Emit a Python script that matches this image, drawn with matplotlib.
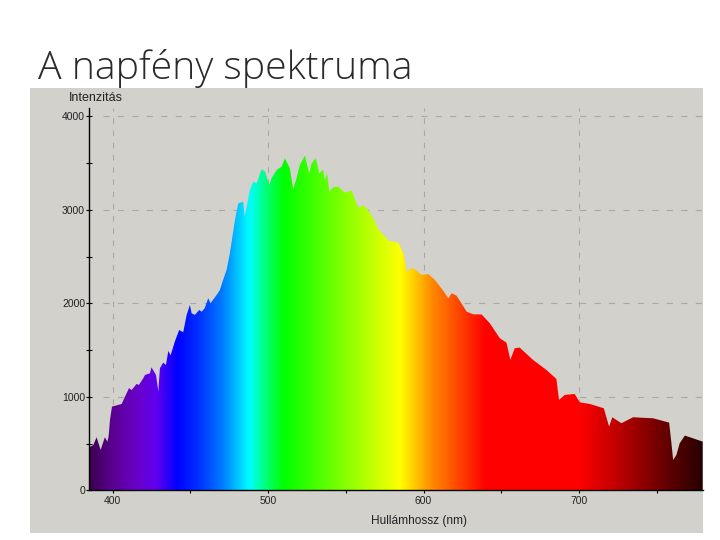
import matplotlib
matplotlib.use('Agg')
import matplotlib.pyplot as plt
from matplotlib.colors import LinearSegmentedColormap
from matplotlib.patches import Polygon, Rectangle
import numpy as np

wavelength = [385, 387.6, 389.7, 392.3, 395, 396.6, 397.4, 398.3, 399.6, 405.8, 410.5, 412.3,
              415.4, 416.9, 419.7, 420.8, 424, 425, 427.9, 429.4, 430.4, 432.5, 434.3, 435.8,
              437.3, 440, 442.8, 445.4, 447.6, 449.7, 450.8, 452.9, 455.7, 457.3, 459.2, 461.5,
              463, 466.9, 469, 470.7, 473.3, 475.4, 478.7, 480.8, 484, 485, 488.3, 490.4,
              492.6, 495.8, 498, 500.7, 502.2, 505.5, 508.7, 510.8, 514, 516.1, 518.3, 520.4,
              523.7, 526.4, 528, 530.7, 532.9, 535.4, 536.5, 538, 539.3, 541.9, 545.1, 549.4,
              553.7, 556.9, 558.6, 561.2, 564.4, 567.7, 570.9, 577.4, 583.7, 587, 588.5, 589.2,
              591.2, 594.4, 598.7, 603, 607.3, 612.6, 615.9, 618, 621.2, 627.7, 631.9, 637.3,
              642.6, 649, 653.3, 655.8, 658.6, 661.8, 670.4, 679, 685.4, 687.1, 690.8, 697.2,
              700.4, 706.9, 715.9, 719.3, 721.4, 727.2, 734.7, 747.6, 757.9, 759.4, 760.5, 762.6,
              764.7, 768, 773.3, 779.5]
intensity = [460, 485, 567, 431, 567, 520, 574, 752, 895, 923, 1091, 1073,
             1137, 1127, 1198, 1233, 1251, 1315, 1233, 1055, 1305, 1365, 1340, 1490,
             1444, 1590, 1714, 1690, 1875, 1982, 1893, 1875, 1928, 1910, 1946, 2053,
             2000, 2089, 2142, 2231, 2356, 2534, 2891, 3069, 3087, 2926, 3212, 3300,
             3283, 3433, 3408, 3265, 3337, 3426, 3461, 3550, 3443, 3219, 3337, 3479,
             3579, 3390, 3497, 3550, 3390, 3426, 3319, 3390, 3193, 3241, 3247, 3183,
             3204, 3069, 3016, 3051, 2991, 2909, 2791, 2670, 2648, 2534, 2410, 2321,
             2374, 2364, 2303, 2313, 2249, 2135, 2053, 2107, 2081, 1910, 1882, 1880,
             1786, 1626, 1579, 1394, 1519, 1526, 1394, 1287, 1191, 966, 1020, 1030,
             941, 923, 877, 681, 781, 717, 781, 770, 724, 503, 324, 378,
             503, 585, 556, 520]

# colour of the spectrum along the wavelength axis
color_nm = [385, 400, 415, 428, 441, 455, 470, 488, 500, 510, 560, 585, 605, 640, 700, 720, 760, 779.5]
color_hex = ['#3c0050', '#5a0090', '#6a00c8', '#6000f0', '#0000ff', '#0030ff', '#0078ff', '#00ffff',
             '#00ff64', '#00ff00', '#aaff00', '#ffff00', '#ff8c00', '#ff0000', '#ff0000', '#cc0000',
             '#5a0000', '#280000']

x_min, x_max = 385, 779.5
y_min, y_max = 0, 4088

fig = plt.figure(figsize=(7.2, 5.4), dpi=100, facecolor='white')
fig.add_artist(Rectangle((30 / 720, 1 - 533 / 540), 673 / 720, 445 / 540, zorder=-1,
                         transform=fig.transFigure, facecolor='#d3d1cc', edgecolor='none'))
fig.text(38 / 720, 1 - 79 / 540, 'A napfény spektruma', fontsize=28.3, family='Open Sans',
         weight='light', color='#2a2a2a', va='baseline', ha='left')

ax = fig.add_axes([89.3 / 720, 1 - 490.3 / 540, (702.7 - 89.3) / 720, (490.3 - 108) / 540])
ax.patch.set_alpha(0)
ax.set_xlim(x_min, x_max)
ax.set_ylim(y_min, y_max)

# dashed guide lines
ax.hlines([1000, 2000, 3000, 4000], 394, x_max, color='#a8a8a4', lw=0.8, linestyles=(0, (5.5, 7.5)), zorder=1)
ax.vlines([400, 500, 600, 700], 0, y_max, color='#a8a8a4', lw=0.8, linestyles=(0, (5, 6)), zorder=1)

# spectrum gradient clipped to the curve
stops = [(n - x_min) / (x_max - x_min) for n in color_nm]
cmap = LinearSegmentedColormap.from_list('sun', list(zip(stops, color_hex)), N=512)
gradient = np.linspace(0, 1, 800).reshape(1, -1)
img = ax.imshow(gradient, cmap=cmap, extent=[x_min, x_max, y_min, y_max], aspect='auto',
                interpolation='bilinear', zorder=2)
outline = list(zip(wavelength, intensity)) + [(x_max, 0), (x_min, 0)]
clip = Polygon(outline, closed=True, transform=ax.transData)
img.set_clip_path(clip)

for side in ['top', 'right']:
    ax.spines[side].set_visible(False)
for side in ['left', 'bottom']:
    ax.spines[side].set_linewidth(1)
    ax.spines[side].set_zorder(3)

ax.set_xticks([400, 500, 600, 700])
ax.set_xticks([450, 550, 650, 750], minor=True)
ax.set_yticks([0, 1000, 2000, 3000, 4000])
ax.set_yticks([500, 1500, 2500, 3500], minor=True)
ax.tick_params(axis='x', which='both', length=2, width=0.8, labelsize=7.5, pad=2, labelcolor='#222222')
ax.tick_params(axis='y', which='both', direction='inout', length=5, width=0.8, labelsize=7.5, pad=0.5, labelcolor='#222222')
plt.setp(ax.get_xticklabels() + ax.get_yticklabels(), family='Liberation Sans')

fig.text(69 / 720, 1 - 98 / 540, 'Intenzitás', fontsize=9, family='Liberation Sans', color='#222222',
         va='center', ha='left')
fig.text(419 / 720, 1 - 521 / 540, 'Hullámhossz (nm)', fontsize=8.6, family='Liberation Sans',
         color='#222222', va='center', ha='center')

fig.savefig('out.png', dpi=100)
plt.close(fig)
